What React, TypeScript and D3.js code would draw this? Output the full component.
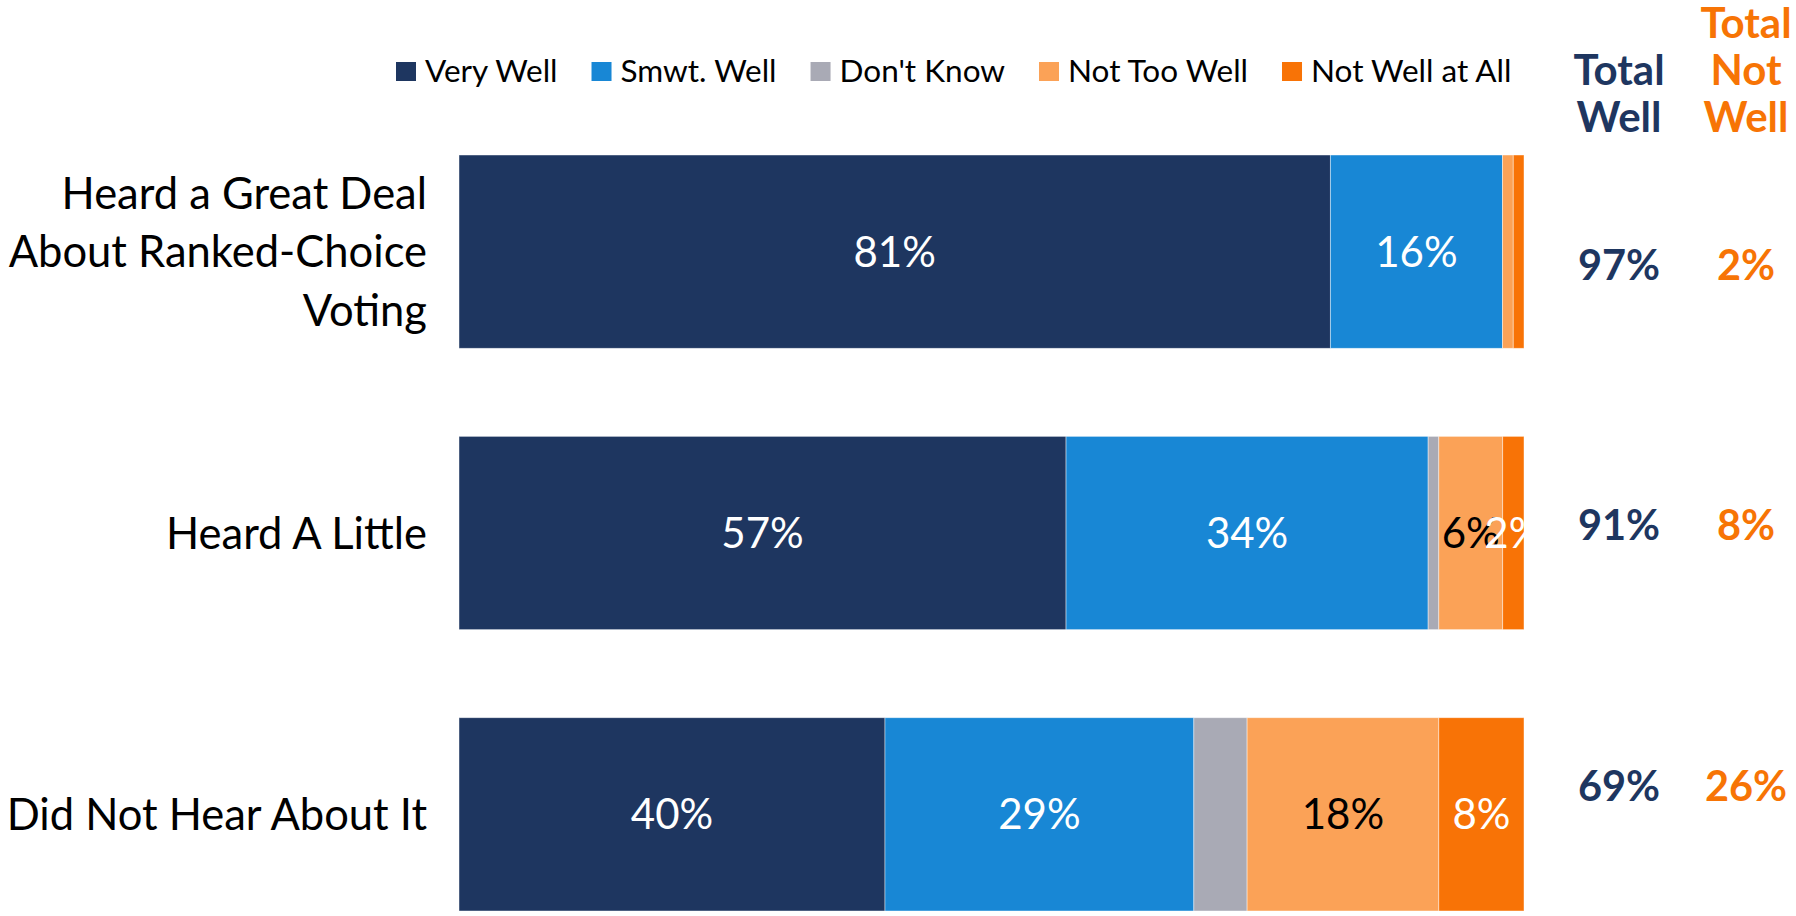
import React, { useEffect, useRef } from "react";
import * as d3 from "d3";

const categories = [
  "Heard a Great Deal About Ranked-Choice Voting",
  "Heard A Little",
  "Did Not Hear About It",
];
const categoryLines = [
  ["Heard a Great Deal", "About Ranked-Choice", "Voting"],
  ["Heard A Little"],
  ["Did Not Hear About It"],
];
const seriesNames = ["Very Well", "Smwt. Well", "Don't Know", "Not Too Well", "Not Well at All"];
const veryWell = [81, 57, 40];
const smwtWell = [16, 34, 29];
const dontKnow = [0, 1, 5];
const notTooWell = [1, 6, 18];
const notWellAtAll = [1, 2, 8];
const totalWell = [97, 91, 69];
const totalNotWell = [2, 8, 26];

const seriesColors = ["#1E3660", "#1887D5", "#A9AAB5", "#FBA257", "#F87306"];
const labelColors = ["#ffffff", "#ffffff", null, "#000000", "#ffffff"];
const NAVY = "#1E3660";
const ORANGE = "#F77405";
const FONT = "Lato, 'Open Sans', sans-serif";

const W = 1796;
const H = 916;

export default function App() {
  const ref = useRef<SVGSVGElement | null>(null);

  useEffect(() => {
    const svg = d3.select(ref.current);
    svg.selectAll("*").remove();

    const seriesValues = [veryWell, smwtWell, dontKnow, notTooWell, notWellAtAll];
    const rows = categories.map((c, i) => {
      const vals = seriesValues.map((s) => s[i]);
      const total = d3.sum(vals);
      let acc = 0;
      const segs = vals.map((v, k) => {
        const s = { key: seriesNames[k], k, v, x0: acc / total, x1: (acc + v) / total };
        acc += v;
        return s;
      });
      return { c, i, segs };
    });

    const x = d3.scaleLinear().domain([0, 1]).range([459, 1524]);
    const y = d3.scaleBand<string>().domain(categories).range([155, 911]).paddingInner(0.313).paddingOuter(0);
    const yTot = d3.scalePoint<string>().domain(categories).range([265, 786]);

    const g = svg.append("g");
    const rowG = g
      .selectAll("g.row")
      .data(rows)
      .join("g")
      .attr("class", "row")
      .attr("transform", (d) => `translate(0,${y(d.c)})`);

    rowG
      .selectAll("rect")
      .data((d) => d.segs.filter((s) => s.v > 0))
      .join("rect")
      .attr("x", (s) => x(s.x0))
      .attr("width", (s) => x(s.x1) - x(s.x0))
      .attr("y", 0)
      .attr("height", y.bandwidth())
      .attr("fill", (s) => seriesColors[s.k])
      .attr("stroke", "rgba(255,255,255,0.55)")
      .attr("stroke-width", 0.8);

    const vfs = 42;
    rowG
      .selectAll("text.val")
      .data((d) => d.segs.filter((s) => s.v >= 2 && labelColors[s.k]))
      .join("text")
      .attr("class", "val")
      .attr("x", (s) => (x(s.x0) + x(s.x1)) / 2)
      .attr("y", y.bandwidth() / 2 + vfs * 0.36)
      .attr("text-anchor", "middle")
      .attr("font-family", FONT)
      .attr("font-size", vfs)
      .attr("fill", (s) => labelColors[s.k] as string)
      .text((s) => `${s.v}%`);

    // category labels
    const cfs = 43.5;
    const lh = 58.5;
    rows.forEach((r) => {
      const lines = categoryLines[r.i];
      const cy = (y(r.c) as number) + y.bandwidth() / 2;
      const t = g
        .append("text")
        .attr("font-family", FONT)
        .attr("font-size", cfs)
        .attr("fill", "#000")
        .attr("text-anchor", "end");
      lines.forEach((ln, j) => {
        t.append("tspan")
          .attr("x", 427)
          .attr("y", cy + (j - (lines.length - 1) / 2) * lh + cfs * 0.36)
          .text(ln);
      });
    });

    // totals
    const tfs = 41.5;
    g.selectAll("text.tw")
      .data(categories)
      .join("text")
      .attr("class", "tw")
      .attr("x", 1619)
      .attr("y", (c) => (yTot(c) as number) + tfs * 0.36)
      .attr("text-anchor", "middle")
      .attr("font-family", FONT)
      .attr("font-weight", 700)
      .attr("font-size", tfs)
      .attr("fill", NAVY)
      .text((c, i) => `${totalWell[i]}%`);
    g.selectAll("text.tn")
      .data(categories)
      .join("text")
      .attr("class", "tn")
      .attr("x", 1746)
      .attr("y", (c) => (yTot(c) as number) + tfs * 0.36)
      .attr("text-anchor", "middle")
      .attr("font-family", FONT)
      .attr("font-weight", 700)
      .attr("font-size", tfs)
      .attr("fill", ORANGE)
      .text((c, i) => `${totalNotWell[i]}%`);

    // totals headers
    const hfs = 42;
    const h1 = g.append("text").attr("font-family", FONT).attr("font-weight", 700).attr("font-size", hfs).attr("fill", NAVY).attr("text-anchor", "middle");
    ["Total", "Well"].forEach((ln, j) => h1.append("tspan").attr("x", 1619).attr("y", 85 + j * 47).text(ln));
    const h2 = g.append("text").attr("font-family", FONT).attr("font-weight", 700).attr("font-size", hfs).attr("fill", ORANGE).attr("text-anchor", "middle");
    ["Total", "Not", "Well"].forEach((ln, j) => h2.append("tspan").attr("x", 1746).attr("y", 38 + j * 47).text(ln));

    // legend
    const lfs = 31.5;
    const lg = g.append("g");
    let cx = 396;
    seriesNames.forEach((name, k) => {
      lg.append("rect").attr("x", cx).attr("y", 62).attr("width", 20).attr("height", 19).attr("fill", seriesColors[k]);
      const t = lg
        .append("text")
        .attr("x", cx + 29)
        .attr("y", 82)
        .attr("font-family", FONT)
        .attr("font-size", lfs)
        .attr("fill", "#000")
        .text(name);
      const w = (t.node() as SVGTextElement).getComputedTextLength();
      cx = cx + 29 + w + 34;
    });
  }, []);

  return (
    <svg
      ref={ref}
      width={W}
      height={H}
      style={{ position: "absolute", left: 0, top: 0, display: "block", background: "#fff" }}
    />
  );
}
